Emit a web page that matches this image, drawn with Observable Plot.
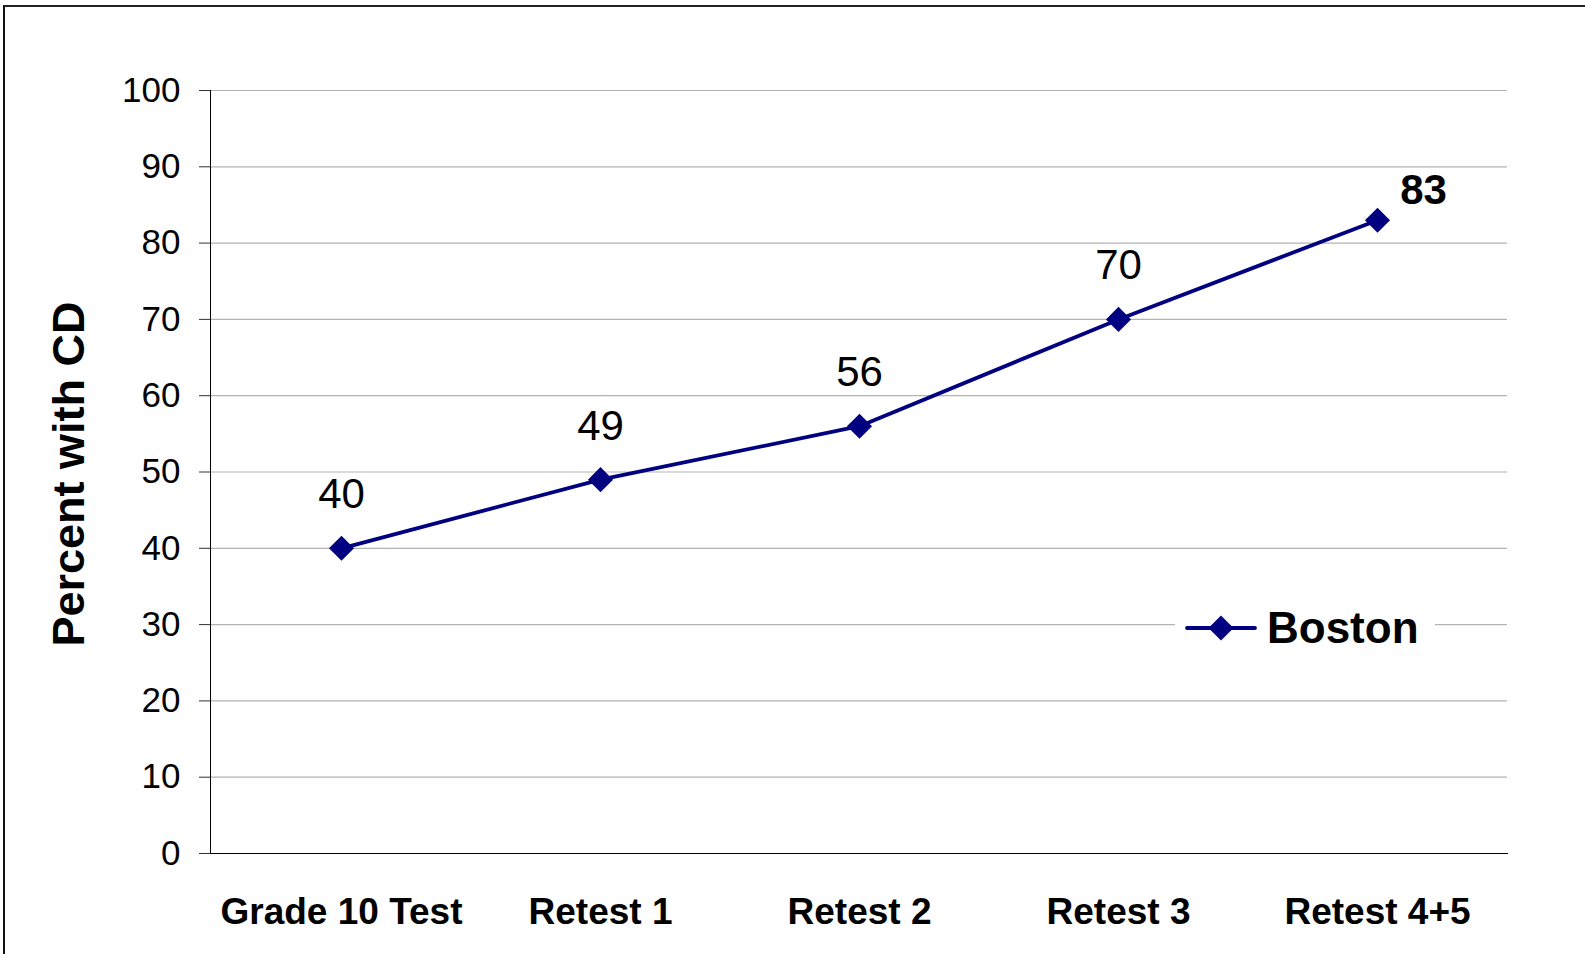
<!DOCTYPE html>
<html>
<head>
<meta charset="utf-8">
<script src="https://cdn.jsdelivr.net/npm/d3@7"></script>
<script src="https://cdn.jsdelivr.net/npm/@observablehq/plot@0.6"></script>
<style>
  html, body { margin: 0; padding: 0; background: #fff; overflow: hidden; }
  #wrap { position: relative; width: 1585px; height: 954px; font-family: Arial, "Liberation Sans", sans-serif; }
  #border { position: absolute; left: 3px; top: 5px; right: -10px; bottom: -10px; border-top: 2px solid #222; border-left: 2px solid #111; pointer-events: none; }
  #legend { position: absolute; left: 1175px; top: 600px; width: 260px; height: 56px; background: #fff; display: flex; align-items: center; }
  #legend svg { margin-left: 10px; }
  #legend span { font-weight: bold; font-size: 44px; margin-left: 10px; color: #000; }
</style>
</head>
<body>
<div id="wrap">
  <div id="chart"></div>
  <div id="legend"></div>
  <div id="border"></div>
</div>
<script>
const categories = ["Grade 10 Test", "Retest 1", "Retest 2", "Retest 3", "Retest 4+5"];
const values = [40, 49, 56, 70, 83];
const yTicks = [0, 10, 20, 30, 40, 50, 60, 70, 80, 90, 100];
const seriesName = "Boston";
const yTitle = "Percent with CD";

const data = categories.map((c, i) => ({cat: c, v: values[i], last: i === categories.length - 1}));
const navy = "#000080";

const chart = Plot.plot({
  width: 1585,
  height: 954,
  marginLeft: 210,
  marginRight: 78,
  marginTop: 90,
  marginBottom: 101,
  style: {fontFamily: "Arial, 'Liberation Sans', sans-serif", background: "transparent", color: "#000", overflow: "visible"},
  x: {type: "point", domain: categories, padding: 0.5},
  y: {domain: [0, 100]},
  marks: [
    Plot.gridY(yTicks, {stroke: "#b3b3b3", strokeOpacity: 1, strokeWidth: 1.2}),
    Plot.axisY(yTicks, {tickSize: 11, tickPadding: 19, fontSize: 35, stroke: "#333", fill: "#000", label: null}),
    Plot.axisX({tickSize: 0, tickPadding: 44, fontSize: 37, fontWeight: "bold", fill: "#000", label: null}),
    Plot.frame({anchor: "left", stroke: "#000"}),
    Plot.frame({anchor: "bottom", stroke: "#000"}),
    Plot.text([yTitle], {frameAnchor: "left", rotate: -90, dx: -141, dy: 2, fontSize: 45, fontWeight: "bold", textAnchor: "middle", lineAnchor: "middle", fill: "#000"}),
    Plot.line(data, {x: "cat", y: "v", stroke: navy, strokeWidth: 3.8}),
    Plot.dot(data, {x: "cat", y: "v", symbol: "diamond2", r: 11.3, fill: navy, stroke: "none"}),
    Plot.text(data.filter(d => !d.last), {x: "cat", y: "v", text: d => String(d.v), dy: -40, lineAnchor: "bottom", fontSize: 42, fill: "#000"}),
    Plot.text(data.filter(d => d.last), {x: "cat", y: "v", text: d => String(d.v), dx: 46, dy: -16, lineAnchor: "bottom", fontSize: 42, fontWeight: "bold", fill: "#000"})
  ]
});
document.getElementById("chart").appendChild(chart);

// legend
const leg = document.getElementById("legend");
const ns = "http://www.w3.org/2000/svg";
const sw = document.createElementNS(ns, "svg");
sw.setAttribute("width", "72");
sw.setAttribute("height", "30");
const ln = document.createElementNS(ns, "line");
ln.setAttribute("x1", "2"); ln.setAttribute("x2", "70"); ln.setAttribute("y1", "15"); ln.setAttribute("y2", "15");
ln.setAttribute("stroke", navy); ln.setAttribute("stroke-width", "3.8"); ln.setAttribute("stroke-linecap", "round");
sw.appendChild(ln);
const dm = document.createElementNS(ns, "path");
dm.setAttribute("d", d3.symbol(d3.symbolDiamond2, Math.PI * 11.3 * 11.3)());
dm.setAttribute("transform", "translate(36,15)");
dm.setAttribute("fill", navy);
sw.appendChild(dm);
leg.appendChild(sw);
const sp = document.createElement("span");
sp.textContent = seriesName;
leg.appendChild(sp);
</script>
</body>
</html>
